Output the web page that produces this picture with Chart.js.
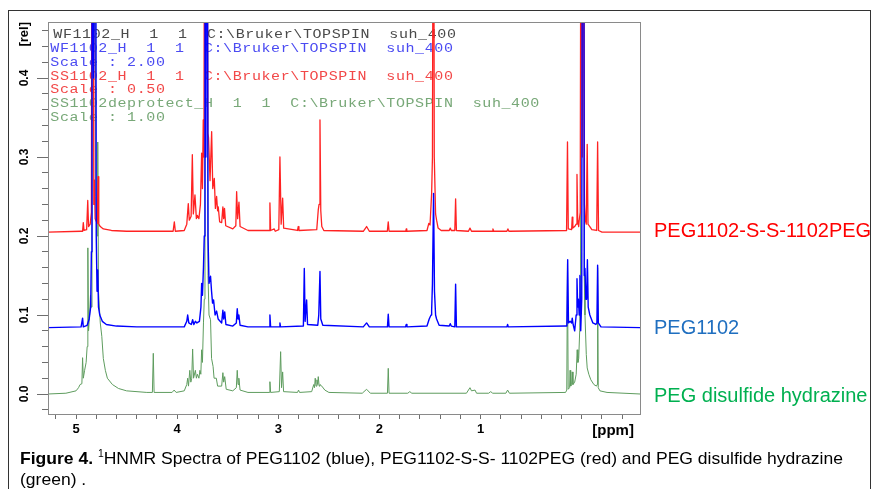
<!DOCTYPE html>
<html>
<head>
<meta charset="utf-8">
<script src="https://cdn.jsdelivr.net/npm/chart.js@4.4.1/dist/chart.umd.min.js"></script>
<style>
  html, body { margin: 0; padding: 0; background: #fff; }
  #wrap { position: relative; width: 872px; height: 489px; overflow: hidden; background: #fff; }
  #outer { position: absolute; left: 8px; top: 10px; width: 863px; height: 600px; border: 1px solid #333; box-sizing: border-box; }
  #c { position: absolute; left: 0; top: 0; }
  .slbl { position: absolute; left: 654px; font-family: 'Liberation Sans', Arial, sans-serif; font-size: 20px; line-height: 20px; white-space: nowrap; }
  #cap { position: absolute; left: 20px; top: 449px; font-family: 'Liberation Sans Narrow', 'Liberation Sans', Arial, sans-serif; font-size: 17px; line-height: 19px; white-space: nowrap; transform-origin: 0 0; color: #000; }
  #cap .sup { font-size: 10px; position: relative; top: -7px; }
</style>
</head>
<body>
<div id="wrap">
  <div id="outer"></div>
  <canvas id="c" width="872" height="489"></canvas>
  <div class="slbl" id="lblRed" style="top:220px;color:#ff0000"></div>
  <div class="slbl" id="lblBlue" style="top:317px;color:#1f6fc0"></div>
  <div class="slbl" id="lblGreen" style="top:385px;color:#00b050"></div>
  <div id="cap"><span id="l1"><b>Figure 4.</b> <span class="sup">1</span>HNMR Spectra of PEG1102 (blue), PEG1102-S-S- 1102PEG (red) and PEG disulfide hydrazine</span><br>(green) .</div>
</div>
<script>
// ---------------- data (ppm, rel) ----------------
const seriesNames = ['PEG1102', 'PEG1102-S-S-1102PEG', 'PEG disulfide hydrazine'];

const headerLines = [
  'WF1102_H  1  1  C:\\Bruker\\TOPSPIN  suh_400',
  'WF1102_H  1  1  C:\\Bruker\\TOPSPIN  suh_400',
  'Scale : 2.00',
  'SS1102_H  1  1  C:\\Bruker\\TOPSPIN  suh_400',
  'Scale : 0.50',
  'SS1102deprotect_H  1  1  C:\\Bruker\\TOPSPIN  suh_400',
  'Scale : 1.00'
];

const xTickValues = [5, 4, 3, 2, 1];
const xTickLabels = ['5', '4', '3', '2', '1'];
const xMinorTickValues = [5.2, 5.0, 4.8, 4.6, 4.4, 4.2, 4.0, 3.8, 3.6, 3.4, 3.2, 3.0, 2.8, 2.6, 2.4, 2.2, 2.0, 1.8, 1.6, 1.4, 1.2, 1.0, 0.8, 0.6, 0.4, 0.2, 0.0, -0.2, -0.4];
const xUnitLabel = '[ppm]';
const yTickValues = [0, 0.1, 0.2, 0.3, 0.4];
const yTickLabels = ['0.0', '0.1', '0.2', '0.3', '0.4'];
const yMinorTickValues = [-0.02, 0, 0.02, 0.04, 0.06, 0.08, 0.1, 0.12, 0.14, 0.16, 0.18, 0.2, 0.22, 0.24, 0.26, 0.28, 0.3, 0.32, 0.34, 0.36, 0.38, 0.4, 0.42, 0.44, 0.46];
const yAxisTitle = '[rel]';

const redSpectrum = [
  [5.28,0.205],[4.95,0.206],
  [4.935,0.206],[4.928,0.217],[4.921,0.207],
  [4.895,0.208],[4.884,0.245],[4.876,0.212],
  [4.86,0.215],[4.848,0.23],[4.84,0.9],[4.832,0.9],[4.824,0.24],
  [4.818,0.271],[4.811,0.222],
  [4.79,0.216],[4.782,0.275],[4.775,0.215],
  [4.76,0.212],[4.73,0.209],[4.65,0.207],[4.5,0.206],
  [4.04,0.206],[4.028,0.218],[4.018,0.206],
  [3.93,0.207],[3.905,0.215],[3.89,0.241],[3.88,0.22],[3.862,0.225],[3.85,0.303],[3.84,0.228],[3.824,0.252],[3.81,0.222],[3.8,0.226],[3.785,0.222],[3.77,0.24],[3.758,0.305],[3.75,0.26],[3.742,0.347],[3.735,0.3],[3.727,0.9],[3.718,0.4],[3.706,0.9],[3.697,0.33],[3.69,0.325],[3.675,0.27],[3.659,0.332],[3.648,0.26],[3.633,0.273],[3.622,0.235],[3.61,0.25],[3.6,0.232],[3.594,0.237],[3.58,0.218],[3.56,0.217],[3.548,0.237],[3.54,0.222],[3.532,0.235],[3.52,0.213],[3.45,0.209],[3.42,0.213],[3.412,0.256],[3.402,0.222],[3.389,0.243],[3.378,0.212],[3.3,0.207],
  [3.09,0.207],[3.083,0.242],[3.076,0.207],[3.04,0.209],[3.03,0.206],
  [2.995,0.208],[2.984,0.3],[2.972,0.215],[2.957,0.248],[2.947,0.21],
  [2.81,0.207],[2.803,0.212],[2.796,0.207],
  [2.62,0.208],[2.605,0.233],[2.597,0.24],[2.588,0.347],[2.58,0.232],[2.57,0.212],[2.55,0.207],
  [2.16,0.206],[2.127,0.212],[2.1,0.206],
  [1.922,0.206],[1.913,0.218],[1.905,0.206],
  [1.74,0.206],[1.735,0.209],[1.73,0.206],
  [1.53,0.207],[1.512,0.216],[1.5,0.214],[1.484,0.254],[1.476,0.3],[1.466,0.9],[1.458,0.3],[1.445,0.228],[1.435,0.22],[1.42,0.21],[1.39,0.207],
  [1.31,0.207],[1.3,0.21],[1.29,0.207],
  [1.255,0.207],[1.247,0.247],[1.239,0.207],
  [1.12,0.206],[1.105,0.21],[1.09,0.206],
  [0.885,0.206],[0.878,0.209],[0.87,0.206],
  [0.74,0.206],[0.73,0.209],[0.72,0.206],
  [0.15,0.207],[0.141,0.319],[0.133,0.209],
  [0.1,0.208],[0.094,0.224],[0.088,0.21],
  [0.07,0.212],[0.055,0.215],[0.047,0.278],[0.04,0.22],
  [0.03,0.212],[0.025,0.22],[0.015,0.23],[0.005,0.9],[-0.005,0.3],[-0.017,0.9],[-0.027,0.24],[-0.035,0.22],[-0.045,0.215],[-0.054,0.316],[-0.062,0.215],[-0.08,0.212],[-0.1,0.208],
  [-0.148,0.207],[-0.157,0.319],[-0.166,0.207],
  [-0.2,0.205],[-0.58,0.205]
];

const blueSpectrum = [
  [5.28,0.084],[4.95,0.085],
  [4.942,0.085],[4.935,0.096],[4.928,0.085],
  [4.89,0.087],[4.87,0.095],[4.855,0.11],[4.848,0.18],[4.842,0.9],[4.835,0.5],[4.826,0.4],[4.818,0.5],[4.807,0.9],[4.8,0.2],[4.792,0.13],[4.785,0.157],[4.778,0.11],[4.765,0.1],[4.74,0.092],[4.7,0.088],[4.6,0.086],[4.4,0.085],
  [3.93,0.085],[3.905,0.092],[3.896,0.1],[3.885,0.09],[3.86,0.088],[3.847,0.094],[3.835,0.088],[3.82,0.092],[3.805,0.09],[3.78,0.092],[3.765,0.11],[3.758,0.14],[3.75,0.125],[3.74,0.16],[3.732,0.2],[3.725,0.9],[3.716,0.3],[3.705,0.9],[3.695,0.2],[3.685,0.14],[3.67,0.149],[3.66,0.13],[3.65,0.115],[3.64,0.119],[3.625,0.1],[3.61,0.105],[3.595,0.095],[3.56,0.09],[3.548,0.106],[3.54,0.095],[3.53,0.104],[3.518,0.088],[3.45,0.086],[3.415,0.09],[3.406,0.108],[3.398,0.095],[3.39,0.1],[3.378,0.087],[3.3,0.085],
  [3.09,0.085],[3.083,0.1],[3.076,0.085],
  [2.99,0.085],[2.984,0.09],[2.978,0.085],
  [2.752,0.086],[2.743,0.159],[2.735,0.092],[2.72,0.119],[2.711,0.088],
  [2.61,0.087],[2.6,0.1],[2.588,0.155],[2.58,0.095],[2.56,0.087],
  [2.16,0.085],[2.127,0.09],[2.1,0.085],
  [1.921,0.085],[1.913,0.101],[1.905,0.085],
  [1.742,0.085],[1.735,0.088],[1.728,0.085],
  [1.53,0.086],[1.508,0.095],[1.49,0.1],[1.484,0.106],[1.476,0.14],[1.465,0.254],[1.456,0.13],[1.445,0.1],[1.435,0.095],[1.41,0.087],
  [1.31,0.086],[1.3,0.089],[1.29,0.086],
  [1.255,0.085],[1.247,0.139],[1.239,0.085],
  [0.74,0.085],[0.733,0.088],[0.726,0.085],
  [0.155,0.086],[0.147,0.09],[0.139,0.17],[0.131,0.09],
  [0.115,0.092],[0.1,0.09],[0.094,0.096],[0.085,0.088],[0.07,0.08],[0.055,0.1],[0.047,0.146],[0.04,0.11],[0.033,0.12],[0.025,0.1],[0.018,0.15],[0.01,0.08],[0.0,0.12],[-0.008,0.9],[-0.018,0.9],[-0.025,0.15],[-0.032,0.159],[-0.04,0.12],[-0.048,0.12],[-0.056,0.17],[-0.064,0.11],[-0.08,0.1],[-0.11,0.09],[-0.14,0.088],
  [-0.15,0.09],[-0.157,0.163],[-0.164,0.09],
  [-0.19,0.085],[-0.58,0.084]
];

const greenSpectrum = [
  [5.28,0.0],[5.1,0.001],[5.0,0.004],
  [4.975,0.008],[4.96,0.012],[4.942,0.013],[4.935,0.046],[4.928,0.02],[4.915,0.03],[4.9,0.04],[4.89,0.06],[4.883,0.185],[4.876,0.08],[4.866,0.1],[4.857,0.125],[4.85,0.11],[4.842,0.2],[4.835,0.9],[4.826,0.5],[4.815,0.9],[4.805,0.25],[4.792,0.2],[4.785,0.319],[4.778,0.13],[4.76,0.09],[4.745,0.073],[4.73,0.045],[4.71,0.03],[4.69,0.02],[4.64,0.012],[4.58,0.007],[4.5,0.004],[4.3,0.002],
  [4.245,0.002],[4.236,0.0515],[4.228,0.002],
  [4.05,0.002],[4.03,0.005],[4.01,0.002],
  [3.93,0.004],[3.905,0.012],[3.896,0.02],[3.888,0.01],[3.875,0.03],[3.865,0.015],[3.856,0.02],[3.847,0.057],[3.838,0.02],[3.82,0.03],[3.81,0.02],[3.8,0.025],[3.785,0.02],[3.775,0.03],[3.766,0.025],[3.758,0.056],[3.75,0.04],[3.74,0.09],[3.732,0.12],[3.725,0.9],[3.715,0.5],[3.705,0.9],[3.695,0.15],[3.685,0.1],[3.67,0.094],[3.66,0.045],[3.645,0.035],[3.635,0.02],[3.613,0.02],[3.6,0.01],[3.56,0.01],[3.548,0.027],[3.54,0.015],[3.53,0.022],[3.515,0.006],[3.45,0.004],[3.415,0.008],[3.406,0.03],[3.398,0.012],[3.39,0.02],[3.378,0.005],[3.3,0.002],
  [3.09,0.002],[3.083,0.0156],[3.076,0.002],
  [2.99,0.003],[2.977,0.0536],[2.968,0.008],[2.957,0.028],[2.948,0.003],
  [2.81,0.002],[2.8,0.005],[2.79,0.002],
  [2.67,0.003],[2.65,0.012],[2.642,0.008],[2.635,0.02],[2.627,0.01],[2.618,0.018],[2.61,0.012],[2.605,0.022],[2.596,0.01],[2.588,0.012],[2.57,0.01],[2.54,0.005],[2.5,0.002],
  [2.17,0.001],[2.127,0.006],[2.09,0.001],
  [1.921,0.001],[1.913,0.0325],[1.905,0.001],
  [1.72,0.001],[1.7,0.003],[1.68,0.001],
  [1.14,0.001],[1.105,0.008],[1.09,0.004],[1.055,0.005],[1.04,0.001],
  [0.92,0.001],[0.9,0.003],[0.88,0.001],
  [0.75,0.001],[0.733,0.005],[0.715,0.001],
  [0.16,0.002],[0.148,0.005],[0.141,0.165],[0.134,0.006],[0.12,0.008],[0.115,0.03],[0.109,0.01],[0.1,0.012],[0.094,0.028],[0.087,0.012],[0.07,0.015],[0.055,0.025],[0.045,0.056],[0.038,0.04],[0.03,0.045],[0.02,0.08],[0.012,0.15],[0.003,0.9],[-0.008,0.6],[-0.017,0.9],[-0.025,0.15],[-0.032,0.1],[-0.045,0.05],[-0.054,0.033],[-0.07,0.025],[-0.09,0.018],[-0.12,0.012],[-0.145,0.01],[-0.152,0.012],[-0.157,0.16],[-0.163,0.008],[-0.18,0.004],[-0.25,0.002],[-0.58,0.0]
];

// ---------------- layout / style ----------------
const X_MIN = -0.576, X_MAX = 5.277;
const Y_MIN = -0.0253, Y_MAX = 0.4709;
const PPM_LABEL_AT = -0.31;
const FRAME_COLOR = '#8a8a8a';
const TICK_COLOR = '#6e6e6e';
const headerStyles = [
  { color: '#4a4a4a', x: 53 },
  { color: '#4b4bf2', x: 50 },
  { color: '#4b4bf2', x: 50 },
  { color: '#f24848', x: 50 },
  { color: '#f24848', x: 50 },
  { color: '#78a878', x: 50 },
  { color: '#78a878', x: 50 }
];

document.getElementById('lblBlue').textContent = seriesNames[0];
document.getElementById('lblRed').textContent = seriesNames[1];
document.getElementById('lblGreen').textContent = seriesNames[2];

const toXY = arr => arr.map(p => ({ x: p[0], y: p[1] }));

const headerPlugin = {
  id: 'header',
  beforeDatasetsDraw(chart) {
    const ctx = chart.ctx;
    ctx.save();
    ctx.font = '12.5px "Liberation Mono", "DejaVu Sans Mono", monospace';
    ctx.textBaseline = 'middle';
    ctx.textAlign = 'center';
    const charW = 9.6;
    const stretch = 1.2;
    headerLines.forEach((line, i) => {
      const st = headerStyles[i];
      ctx.fillStyle = st.color;
      const y = 34.7 + i * 13.85;
      for (let k = 0; k < line.length; k++) {
        const cx = st.x + k * charW + charW / 2;
        ctx.save();
        ctx.translate(cx, y);
        ctx.scale(stretch, 1);
        ctx.fillText(line[k], 0, 0);
        ctx.restore();
      }
    });
    ctx.restore();
  }
};

const framePlugin = {
  id: 'frame',
  afterDraw(chart) {
    const { left, top, right, bottom } = chart.chartArea;
    const ctx = chart.ctx;
    ctx.save();
    ctx.strokeStyle = FRAME_COLOR;
    ctx.lineWidth = 1;
    ctx.strokeRect(Math.round(left) + 0.5, Math.round(top) + 0.5, Math.round(right - left), Math.round(bottom - top));
    ctx.restore();
  }
};

const isPpmTick = v => Math.abs(v - PPM_LABEL_AT) < 1e-6;
const xLabelFor = v => {
  if (isPpmTick(v)) return xUnitLabel;
  const i = xTickValues.findIndex(t => Math.abs(t - v) < 1e-6);
  return i >= 0 ? xTickLabels[i] : '';
};

const chart = new Chart(document.getElementById('c'), {
  type: 'line',
  data: {
    datasets: [
      { label: seriesNames[0], data: toXY(blueSpectrum), borderColor: '#0000ff', borderWidth: 1.4, pointRadius: 0, tension: 0, borderJoinStyle: 'round', order: 0 },
      { label: seriesNames[1], data: toXY(redSpectrum), borderColor: '#ff2222', borderWidth: 1.3, pointRadius: 0, tension: 0, borderJoinStyle: 'round', order: 1 },
      { label: seriesNames[2], data: toXY(greenSpectrum), borderColor: '#5e9c5e', borderWidth: 1, pointRadius: 0, tension: 0, borderJoinStyle: 'round', order: 2 }
    ]
  },
  options: {
    responsive: false,
    animation: false,
    devicePixelRatio: 1,
    events: [],
    layout: { padding: { left: 0, right: 232, top: 22, bottom: 0 } },
    plugins: { legend: { display: false }, tooltip: { enabled: false } },
    scales: {
      x: {
        type: 'linear', reverse: true, min: X_MIN, max: X_MAX, position: 'bottom',
        afterFit(s) { s.height = 75; },
        afterBuildTicks(s) { s.ticks = xMinorTickValues.concat([PPM_LABEL_AT]).map(v => ({ value: v })); },
        grid: {
          display: true, drawOnChartArea: false, tickLength: 5, tickWidth: 1,
          tickColor: c => (c.tick && isPpmTick(c.tick.value)) ? 'rgba(0,0,0,0)' : TICK_COLOR
        },
        border: { display: true, color: FRAME_COLOR },
        ticks: {
          autoSkip: false, maxRotation: 0, minRotation: 0, padding: 3, color: '#000',
          font: c => ({ family: '"Liberation Sans", Arial, sans-serif', weight: 'bold', size: (c.tick && isPpmTick(c.tick.value)) ? 15 : 13 }),
          callback: v => xLabelFor(v)
        }
      },
      y: {
        type: 'linear', position: 'left', weight: 1, min: Y_MIN, max: Y_MAX,
        afterFit(s) { s.width = 48; },
        afterBuildTicks(s) { s.ticks = yTickValues.map(v => ({ value: v })); },
        grid: { display: true, drawOnChartArea: false, tickLength: 11, tickColor: TICK_COLOR },
        border: { display: true, color: FRAME_COLOR },
        title: { display: true, text: yAxisTitle, align: 'end', color: '#000', padding: { top: 17, bottom: 0 },
                 font: { family: '"Liberation Sans", Arial, sans-serif', weight: 'bold', size: 13 } },
        ticks: {
          minRotation: 90, maxRotation: 90, crossAlign: 'center', padding: 4, color: '#000',
          font: { family: '"Liberation Sans", Arial, sans-serif', weight: 'bold', size: 12 },
          callback: (v, i) => yTickLabels[i]
        }
      },
      yMinor: {
        type: 'linear', position: 'left', weight: 0, min: Y_MIN, max: Y_MAX,
        afterFit(s) { s.width = 0; },
        afterBuildTicks(s) { s.ticks = yMinorTickValues.map(v => ({ value: v })); },
        grid: { display: true, drawOnChartArea: false, tickLength: 6, tickColor: TICK_COLOR },
        border: { display: false },
        ticks: { display: false }
      }
    }
  },
  plugins: [headerPlugin, framePlugin]
});

// fit caption width to the reference line length
(function fitCaption() {
  const cap = document.getElementById('cap');
  const w = document.getElementById('l1').getBoundingClientRect().width;
  if (w > 0) cap.style.transform = 'scaleX(' + (823 / w) + ')';
})();
</script>
</body>
</html>
